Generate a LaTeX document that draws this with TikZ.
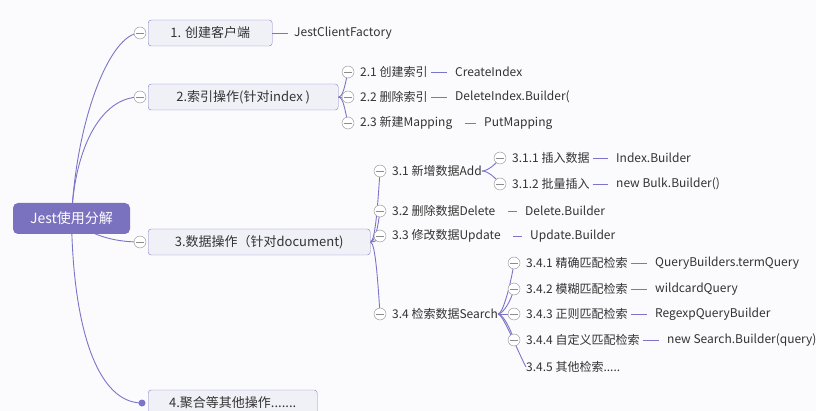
\documentclass[tikz,border=0pt]{standalone}
\usepackage{fontspec}
\setmainfont{Noto Sans CJK SC}
\usetikzlibrary{backgrounds}

\definecolor{mapline}{HTML}{7B74C9}
\definecolor{rootfill}{HTML}{7A71BF}
\definecolor{boxfill}{HTML}{F0F0F7}
\definecolor{boxline}{HTML}{8880CC}
\definecolor{foldgray}{HTML}{8C8C8C}
\definecolor{paper}{HTML}{FBFBFD}
\definecolor{ink}{HTML}{333333}

\begin{document}
\begin{tikzpicture}[
    x=1pt, y=-1pt,
    every node/.style={font=\fontsize{12}{14}\selectfont, text=ink},
    root/.style={fill=rootfill, rounded corners=5pt, text=white, font=\fontsize{14}{16}\selectfont, minimum width=117pt, minimum height=31pt, inner sep=0pt},
    topic/.style={draw=boxline, fill=boxfill, rounded corners=3pt, minimum height=26pt, inner sep=0pt, anchor=west, font=\fontsize{13}{15}\selectfont},
    fold/.style={circle, draw=foldgray, fill=white, minimum size=12pt, inner sep=0pt,
      path picture={\draw[foldgray] ([xshift=-4pt]path picture bounding box.center) -- ([xshift=4pt]path picture bounding box.center);}},
    leaf/.style={anchor=west, inner sep=0pt},
    branch/.style={draw=mapline, line width=0.9pt},
    tie/.style={draw=mapline, line width=0.9pt, shorten <=3pt, shorten >=8pt}
    ]
    \clip (0,0) rectangle (816,411);

    % root and main topics
    \node[root] (jest) at (71.5,218.5) {Jest使用分解};
    \node[topic, minimum width=124pt] (t1) at (148,33) {1. 创建客户端};
    \node[topic, minimum width=190pt] (t2) at (148,97) {2.索引操作(针对index )};
    \node[topic, minimum width=222pt] (t3) at (148,242) {3.数据操作（针对document)};
    \node[topic, minimum width=169pt] (t4) at (148,403) {4.聚合等其他操作.......};

    \node[fold] (c1) at (140,33) {};
    \node[fold] (c2) at (140,97) {};
    \node[fold] (c3) at (140,242) {};
    \node[circle, fill=mapline, minimum size=7pt, inner sep=0pt] (d4) at (142,403) {};

    % 1
    \node[leaf] (k1) at (294,33) {JestClientFactory};

    % 2
    \node[fold] (c21) at (348,72) {};
    \node[fold] (c22) at (348,97) {};
    \node[fold] (c23) at (348,123) {};
    \node[leaf] (s21) at (360,72) {2.1 创建索引};
    \node[leaf] (s22) at (360,97) {2.2 删除索引};
    \node[leaf] (s23) at (360,123) {2.3 新建Mapping};
    \node[leaf] (r21) at (455,72) {CreateIndex};
    \node[leaf] (r22) at (455,97) {DeleteIndex.Builder(};
    \node[leaf] (r23) at (484,123) {PutMapping};

    % 3
    \node[fold] (c31) at (380,171) {};
    \node[fold] (c32) at (380,211) {};
    \node[fold] (c33) at (380,236) {};
    \node[fold] (c34) at (380,314) {};
    \node[leaf] (s31) at (392,171) {3.1 新增数据Add};
    \node[leaf] (s32) at (392,211) {3.2 删除数据Delete};
    \node[leaf] (s33) at (392,236) {3.3 修改数据Update};
    \node[leaf] (s34) at (392,314) {3.4 检索数据Search};
    \node[leaf] (r32) at (525,211) {Delete.Builder};
    \node[leaf] (r33) at (530,236) {Update.Builder};

    % 3.1
    \node[fold] (c311) at (500,158) {};
    \node[fold] (c312) at (500,184) {};
    \node[leaf] (s311) at (512,158) {3.1.1 插入数据};
    \node[leaf] (s312) at (512,184) {3.1.2 批量插入};
    \node[leaf] (r311) at (616,158) {Index.Builder};
    \node[leaf] (r312) at (616,184) {new Bulk.Builder()};

    % 3.4
    \node[fold] (c341) at (514,263) {};
    \node[fold] (c342) at (514,289) {};
    \node[fold] (c343) at (514,314) {};
    \node[fold] (c344) at (514,340) {};
    \node[leaf] (s341) at (526,263) {3.4.1 精确匹配检索};
    \node[leaf] (s342) at (526,289) {3.4.2 模糊匹配检索};
    \node[leaf] (s343) at (526,314) {3.4.3 正则匹配检索};
    \node[leaf] (s344) at (526,340) {3.4.4 自定义匹配检索};
    \node[leaf] (s345) at (526,367) {3.4.5 其他检索.....};
    \node[leaf] (r341) at (655,263) {QueryBuilders.termQuery};
    \node[leaf] (r342) at (655,289) {wildcardQuery};
    \node[leaf] (r343) at (655,314) {RegexpQueryBuilder};
    \node[leaf] (r344) at (667,340) {new Search.Builder(query)};

    \draw[tie, shorten <=0pt, shorten >=6pt] (t1) -- (k1);
    \draw[tie] (s21) -- (r21);
    \draw[tie] (s22) -- (r22);
    \draw[tie, shorten <=12pt] (s23) -- (r23);
    \draw[tie, shorten <=12pt] (s32) -- (r32);
    \draw[tie, shorten <=12pt] (s33) -- (r33);
    \draw[tie] (s311) -- (r311);
    \draw[tie] (s312) -- (r312);
    \draw[tie] (s341) -- (r341);
    \draw[tie] (s342) -- (r342);
    \draw[tie] (s343) -- (r343);
    \draw[tie] (s344) -- (r344);

    \begin{pgfonlayer}{background}
      \fill[paper] (0,0) rectangle (816,411);
      % from the root
      \draw[branch] (jest.center) .. controls (76,120) and (110,33) .. (c1.center);
      \draw[branch] (jest.center) .. controls (74,150) and (100,97) .. (c2.center);
      \draw[branch] (jest.center) .. controls (90,236) and (115,242) .. (c3.center);
      \draw[branch] (jest.center) .. controls (73,330) and (98,403) .. (d4.center);
      % 2
      \draw[branch] (t2.east) .. controls +(5,0) and +(-3,12) .. (c21.center);
      \draw[branch] (t2.east) -- (c22.center);
      \draw[branch] (t2.east) .. controls +(5,0) and +(-3,-12) .. (c23.center);
      % 3
      \draw[branch] (t3.east) .. controls +(5,0) and +(-2,30) .. (c31.center);
      \draw[branch] (t3.east) .. controls +(5,0) and +(-2,15) .. (c32.center);
      \draw[branch] (t3.east) .. controls +(5,0) and +(-2,4) .. (c33.center);
      \draw[branch] (t3.east) .. controls +(5,0) and +(-2,-30) .. (c34.center);
      % 3.1
      \draw[branch] (s31.east) .. controls +(6,0) and +(-4,6) .. (c311.center);
      \draw[branch] (s31.east) .. controls +(6,0) and +(-4,-6) .. (c312.center);
      % 3.4
      \draw[branch] (s34.east) .. controls +(5,0) and +(-3,20) .. (c341.center);
      \draw[branch] (s34.east) .. controls +(5,0) and +(-3,12) .. (c342.center);
      \draw[branch] (s34.east) -- (c343.center);
      \draw[branch] (s34.east) .. controls +(5,0) and +(-3,-10) .. (c344.center);
      \draw[branch] (s34.east) .. controls +(5,0) and +(-8,-15) .. (s345.west);
    \end{pgfonlayer}
  \end{tikzpicture}
\end{document}
